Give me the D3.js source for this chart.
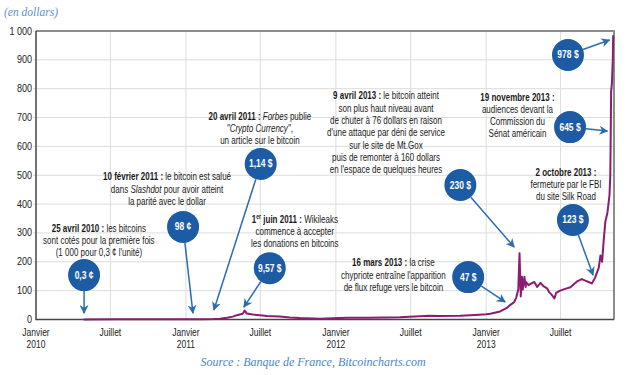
<!DOCTYPE html>
<html>
<head>
<meta charset="utf-8">
<script src="https://cdn.jsdelivr.net/npm/d3@7"></script>
<style>
body { margin: 0; background: #fff; }
svg text { font-family: "Liberation Sans", Arial, sans-serif; }
</style>
</head>
<body>
<div id="wrapper"></div>
<script>
// price series
const priceDates = ["2010-04-27","2010-07-15","2010-10-15","2011-01-01","2011-02-10","2011-03-08","2011-03-25","2011-04-11","2011-04-25","2011-05-05","2011-05-19","2011-05-24","2011-05-29","2011-06-13","2011-06-30","2011-07-17","2011-08-17","2011-09-11","2011-10-05","2011-11-23","2011-12-24","2012-01-27","2012-03-16","2012-05-01","2012-06-05","2012-07-23","2012-08-15","2012-09-10","2012-10-29","2012-12-05","2013-01-01","2013-01-11","2013-02-04","2013-02-20","2013-02-28","2013-03-10","2013-03-15","2013-03-20","2013-03-23","2013-03-26","2013-03-29","2013-03-31","2013-04-04","2013-04-07","2013-04-08","2013-04-14","2013-04-21","2013-04-28","2013-05-05","2013-05-13","2013-05-20","2013-05-29","2013-06-03","2013-06-08","2013-06-16","2013-06-20","2013-06-30","2013-07-12","2013-07-25","2013-08-02","2013-08-10","2013-08-22","2013-08-30","2013-09-07","2013-09-15","2013-09-23","2013-10-02","2013-10-06","2013-10-10","2013-10-14","2013-10-18","2013-10-23","2013-10-28","2013-10-30","2013-10-31","2013-11-01","2013-11-03","2013-11-05","2013-11-06"];
const priceValues = [0.3,0.5,0.8,1,1.1,1.5,2.5,6,10,15,20,31,21,17,15,12,10,7,5,3,4.5,6,6,7,8,11,13,12,13,16,18,20,28,40,50,60,76,105,230,80,148,104,148,113,130,119,125,130,113,127,116,108,95,88,73,92,100,106,112,122,132,140,135,130,125,145,180,222,200,275,340,370,430,500,640,790,820,900,985];

const yTicks = [0,100,200,300,400,500,600,700,800,900,1000];
const xTickDates = ["2010-01-01","2010-07-01","2011-01-01","2011-07-01","2012-01-01","2012-07-01","2013-01-01","2013-07-01"];
const xTickLabels = [["Janvier","2010"],["Juillet"],["Janvier","2011"],["Juillet"],["Janvier","2012"],["Juillet"],["Janvier","2013"],["Juillet"]];

// bubbles: label, centre (date, value), arrow target (date, value)
const bubbleLabels = ["0,3 ¢","98 ¢","1,14 $","9,57 $","47 $","230 $","123 $","645 $","978 $"];
const bubbleAt = [["2010-04-28",154],["2010-12-25",321],["2011-07-02",539],["2011-07-24",178],["2012-11-18",147],["2012-10-30",466],["2013-07-31",345],["2013-07-24",667],["2013-07-19",917]];
const arrowTo = [["2010-04-28",22],["2011-01-18",22],["2011-03-10",33],["2011-05-22",43],["2013-02-16",61],["2013-03-10",251],["2013-09-18",154],["2013-10-23",653],["2013-10-28",969]];

// notes: lines of [text, style] segments
const noteTexts = [
  [[["25 avril 2010 :","b"],[" les bitcoins"]],[["sont cotés pour la première fois"]],[["(1 000 pour 0,3 ¢ l'unité)"]]],
  [[["10 février 2011 :","b"],[" le bitcoin est salué"]],[["dans "],["Slashdot","i"],[" pour avoir atteint"]],[["la parité avec le dollar"]]],
  [[["20 avril 2011 :","b"],[" "],["Forbes","i"],[" publie"]],[["\"Crypto Currency\"","i"],[","]],[["un article sur le bitcoin"]]],
  [[["1","b"],["er","bs"],[" juin 2011 :","b"],[" Wikileaks"]],[["commence à accepter"]],[["les donations en bitcoins"]]],
  [[["9 avril 2013 :","b"],[" le bitcoin atteint"]],[["son plus haut niveau avant"]],[["de chuter à 76 dollars en raison"]],[["d'une attaque par déni de service"]],[["sur le site de Mt.Gox"]],[["puis de remonter à 160 dollars"]],[["en l'espace de quelques heures"]]],
  [[["19 novembre 2013 :","b"]],[["audiences devant la"]],[["Commission du"]],[["Sénat américain"]]],
  [[["2 octobre 2013 :","b"]],[["fermeture par le FBI"]],[["du site Silk Road"]]],
  [[["16 mars 2013 :","b"],[" la crise"]],[["chypriote entraîne l'apparition"]],[["de flux refuge vers le bitcoin"]]]
];
const noteAt = [["2010-06-03",305],["2010-11-16",482],["2011-06-30",693],["2011-09-23",336],["2012-05-02",763],["2013-03-18",759],["2013-07-14",499],["2012-05-20",184]];

const parse = d3.timeParse("%Y-%m-%d");
const data = priceDates.map((d,i) => ({date: parse(d), value: priceValues[i]}));

const width = 626, height = 375;
const margin = {top: 31, right: 12, bottom: 55.5, left: 36};

const svg = d3.select("#wrapper").append("svg")
    .attr("width", width)
    .attr("height", height);

const x = d3.scaleTime()
    .domain([parse("2010-01-01"), parse("2013-11-08")])
    .range([margin.left, width - margin.right]);
const y = d3.scaleLinear()
    .domain([0, 1000])
    .range([height - margin.bottom, margin.top]);

const x0 = margin.left, x1 = width - margin.right;
const y0 = height - margin.bottom, y1 = margin.top;

// grid
svg.append("g")
    .selectAll("line")
    .data(yTicks.slice(1))
    .enter()
    .append("line")
    .attr("x1", x0 - 3).attr("x2", x1)
    .attr("y1", d => y(d)).attr("y2", d => y(d))
    .style("stroke", "#dcdcdc");
svg.append("g")
    .selectAll("line")
    .data(xTickDates.slice(1))
    .enter()
    .append("line")
    .attr("x1", d => x(parse(d))).attr("x2", d => x(parse(d)))
    .attr("y1", y1).attr("y2", y0)
    .style("stroke", "#dcdcdc");

// frame
svg.append("path")
    .attr("d", `M${x0},${y1}H${x1}V${y0}`)
    .style("fill", "none").style("stroke", "#8c8c8c").style("stroke-width", 2);
svg.append("path")
    .attr("d", `M${x0},${y1}V${y0}H${x1}`)
    .style("fill", "none").style("stroke", "#444").style("stroke-width", 1.5);

// y labels
svg.append("g")
    .selectAll("text")
    .data(yTicks)
    .enter()
    .append("text")
    .attr("transform", d => `translate(${x0 - 4},${y(d) + 3.5}) scale(0.9,1)`)
    .style("text-anchor", "end")
    .style("font-size", "10px")
    .style("fill", "#222")
    .text(d => d === 1000 ? "1 000" : d);

// x labels
const xl = svg.append("g")
    .selectAll("g")
    .data(xTickDates)
    .enter()
    .append("g")
    .attr("transform", d => `translate(${x(parse(d))},${y0 + 16}) scale(0.85,1)`);
xl.each(function(d, i) {
    d3.select(this).selectAll("text")
        .data(xTickLabels[i])
        .enter()
        .append("text")
        .attr("y", (t, j) => j * 13)
        .style("text-anchor", "middle")
        .style("font-size", "10px")
        .style("fill", "#222")
        .text(t => t);
});

// price line
const line = d3.line()
    .x(d => x(d.date))
    .y(d => y(d.value));
svg.append("path")
    .datum(data)
    .attr("d", line)
    .style("fill", "none")
    .style("stroke", "#8b1c6f")
    .style("stroke-width", 2)
    .style("stroke-linejoin", "round");

// notes
noteTexts.forEach((lines, i) => {
    const g = svg.append("g")
        .attr("transform", `translate(${x(parse(noteAt[i][0]))},${y(noteAt[i][1])}) scale(0.8,1)`);
    lines.forEach((segs, j) => {
        const t = g.append("text")
            .attr("y", j * 12.3)
            .style("text-anchor", "middle")
            .style("font-size", "10px")
            .style("fill", "#1a1a1a");
        segs.forEach(s => {
            const st = s[1] || "";
            const ts = t.append("tspan").text(s[0]);
            if (st.includes("b")) ts.style("font-weight", "bold");
            if (st.includes("i")) ts.style("font-style", "italic");
            if (st.includes("s")) ts.style("font-size", "6.5px").attr("dy", -3.5);
            else if (j >= 0 && segs.some(q => (q[1] || "").includes("s"))) ts.attr("dy", ts.node().previousSibling && d3.select(ts.node().previousSibling).text() === "er" ? 3.5 : null);
        });
    });
});

// arrows and bubbles
const blue = "#2b6cb3";
svg.append("defs").append("marker")
    .attr("id", "head")
    .attr("viewBox", "0 0 10 10")
    .attr("refX", 9).attr("refY", 5)
    .attr("markerWidth", 10).attr("markerHeight", 9)
    .attr("markerUnits", "userSpaceOnUse")
    .attr("orient", "auto")
    .append("path")
    .attr("d", "M0,0L10,5L0,10L3,5Z")
    .style("fill", blue);

const r = 16;
bubbleLabels.forEach((lab, i) => {
    const cx = x(parse(bubbleAt[i][0])), cy = y(bubbleAt[i][1]);
    const tx = x(parse(arrowTo[i][0])), ty = y(arrowTo[i][1]);
    const len = Math.hypot(tx - cx, ty - cy);
    const sx = cx + (tx - cx) / len * r, sy = cy + (ty - cy) / len * r;
    svg.append("line")
        .attr("x1", sx).attr("y1", sy)
        .attr("x2", tx).attr("y2", ty)
        .style("stroke", blue)
        .style("stroke-width", 1.5)
        .attr("marker-end", "url(#head)");
    svg.append("circle")
        .attr("cx", cx).attr("cy", cy).attr("r", r)
        .style("fill", "#1d5ba4");
    svg.append("text")
        .attr("transform", `translate(${cx},${cy + 3.5}) scale(0.85,1)`)
        .style("text-anchor", "middle")
        .style("font-size", "10px")
        .style("font-weight", "bold")
        .style("fill", "#fff")
        .text(lab);
});

// titles
svg.append("text")
    .attr("x", 4).attr("y", 16)
    .style("font-family", "'Liberation Serif', serif")
    .style("font-style", "italic")
    .style("font-size", "11.5px")
    .style("fill", "#5b8fd3")
    .text("(en dollars)");
svg.append("text")
    .attr("x", width / 2).attr("y", 366)
    .style("font-family", "'Liberation Serif', serif")
    .style("font-style", "italic")
    .style("font-size", "12px")
    .style("text-anchor", "middle")
    .style("fill", "#4a86c8")
    .text("Source : Banque de France, Bitcoincharts.com");
</script>
</body>
</html>
